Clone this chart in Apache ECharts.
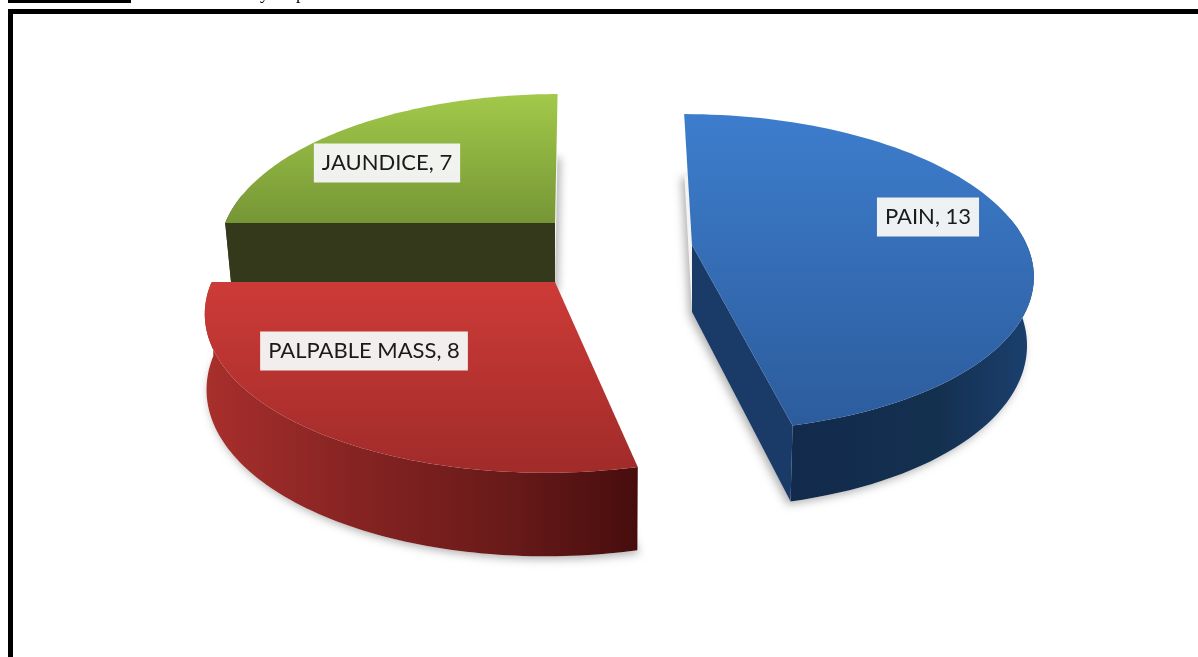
<!DOCTYPE html>
<html>
<head>
<meta charset="utf-8">
<style>html,body{margin:0;padding:0;background:#fff;overflow:hidden}#c{width:1198px;height:657px}</style>
<script src="https://cdn.jsdelivr.net/npm/echarts@6/dist/echarts.min.js"></script>
</head>
<body>
<div id="c"></div>
<script>
// Data
const categories = ['PAIN', 'PALPABLE MASS', 'JAUNDICE'];
const values = [13, 8, 7];

// Look: one entry per slice, in the order above
const apexX = [692, 555, 555];
const apexY = [245, 282, 223];
const radiusScale = [0.985, 1.01, 0.97];
const shear = [0.06, -0.05, -0.02];
const depth = [67, 74, 67];
const baseX = [0.98, 0.995, 0.98];
const shadowDx = [-3, 2, 3];
const labelBox = [[928, 217], [364, 351], [387, 163]];
const topStops = [['#3d7dcd', '#2c5c9c'], ['#cd3b38', '#a02b29'], ['#a2c94a', '#769636']];
const wallStops = [
  [[0, '#122a4c'], [0.6, '#14304f'], [1, '#1b4070']],
  [[0, '#a82f2c'], [0.3, '#8a2524'], [0.7, '#681a19'], [1, '#470d0d']],
  [[0, '#33391a'], [1, '#33391a']]
];
// Which cut edge faces the viewer: 'end', 'start' or none
const faceEdge = ['end', null, 'start'];
const faceColor = ['#1a3b68', null, '#33391a'];
// Perspective circle, in pixels
const RX = 340, RY = 156, K = 0.174;
const BASE_Y = 1.05;

const total = values.reduce((a, b) => a + b, 0);
const starts = [];
values.reduce((acc, v, i) => { starts[i] = acc; return acc + v; }, 0);

function topPoint(i, deg) {
  const t = deg * Math.PI / 180, s = radiusScale[i];
  const p = 1 / (1 + K * Math.cos(t));
  const dx = RX * s * Math.sin(t) * p, dy = -RY * s * Math.cos(t) * p;
  return [dx + shear[i] * dy, dy];
}
function renderSlice(params, api) {
  const i = api.value(0);
  const a0 = starts[i] / total * 360;
  const a1 = (starts[i] + api.value(1)) / total * 360;
  const ox = apexX[i], oy = apexY[i], d = depth[i];
  const arcTop = [], arcBase = [], wallTop = [], wallBase = [];
  const N = 90;
  for (let n = 0; n <= N; n++) {
    const deg = a0 + (a1 - a0) * n / N;
    const [dx, dy] = topPoint(i, deg);
    const pt = api.coord([ox + dx, oy + dy]);
    const pb = api.coord([ox + dx * baseX[i], oy + d + dy * BASE_Y]);
    arcTop.push(pt);
    arcBase.push(pb);
    // only the rim facing the viewer gets a wall
    if (Math.cos(deg * Math.PI / 180) < 0.2) { wallTop.push(pt); wallBase.push(pb); }
  }
  const apexT = api.coord([ox, oy]), apexB = api.coord([ox, oy + d]);
  const grad = (stops, horiz) => ({
    type: 'linear', x: 0, y: 0, x2: horiz ? 1 : 0, y2: horiz ? 0 : 1,
    colorStops: stops.map(s => ({ offset: s[0], color: s[1] }))
  });
  const children = [];
  // soft cast shadow
  children.push({ type: 'polygon', silent: true,
    shape: { points: [apexB].concat(arcBase) },
    style: { fill: '#f4f4f4', shadowBlur: 9, shadowColor: 'rgba(0,0,0,0.3)', shadowOffsetX: shadowDx[i], shadowOffsetY: 3 } });
  // side wall along the rim
  if (wallTop.length > 1) {
    children.push({ type: 'polygon', silent: true,
      shape: { points: wallTop.concat(wallBase.slice().reverse()) },
      style: { fill: grad(wallStops[i], true) } });
  }
  // straight cut face
  if (faceEdge[i]) {
    const e = faceEdge[i] === 'end' ? N : 0;
    children.push({ type: 'polygon', silent: true,
      shape: { points: [apexT, arcTop[e], arcBase[e], apexB] },
      style: { fill: faceColor[i] } });
  }
  // top surface
  children.push({ type: 'polygon', silent: true,
    shape: { points: [apexT].concat(arcTop) },
    style: { fill: grad([[0, topStops[i][0]], [1, topStops[i][1]]], false) } });
  // label
  const lp = api.coord(labelBox[i]);
  children.push({ type: 'text', silent: true, z2: 10, x: lp[0], y: lp[1],
    style: { text: categories[i] + ', ' + api.value(1), fill: '#1a1a1a',
      font: '22px Lato, "Open Sans", sans-serif', align: 'center', verticalAlign: 'middle',
      backgroundColor: 'rgba(245,245,245,0.97)', padding: [9, 8, 8, 8] } });
  return { type: 'group', children };
}

const chart = echarts.init(document.getElementById('c'), null, { renderer: 'canvas' });
// Back-to-front draw order: jaundice, palpable mass, pain
const drawOrder = [2, 1, 0];
chart.setOption({
  animation: false,
  backgroundColor: '#ffffff',
  grid: { left: 0, right: 0, top: 0, bottom: 0 },
  xAxis: { type: 'value', min: 0, max: 1198, show: false },
  yAxis: { type: 'value', min: 0, max: 657, inverse: true, show: false },
  series: [{
    type: 'custom',
    coordinateSystem: 'cartesian2d',
    renderItem: renderSlice,
    encode: { x: 0, y: 1 },
    data: drawOrder.map(i => [i, values[i]]),
    clip: false
  }],
  graphic: [
    { type: 'rect', shape: { x: 8, y: 9, width: 1190, height: 5 }, style: { fill: '#000' } },
    { type: 'rect', shape: { x: 8, y: 9, width: 5, height: 648 }, style: { fill: '#000' } },
    { type: 'rect', shape: { x: 8, y: 0, width: 123, height: 3 }, style: { fill: '#000' } },
    { type: 'text', x: 260, y: -15, style: { text: 'y', font: '18px "Liberation Serif"', fill: '#000' } },
    { type: 'text', x: 296, y: -15, style: { text: 'p', font: '18px "Liberation Serif"', fill: '#000' } }
  ]
});
</script>
</body>
</html>
